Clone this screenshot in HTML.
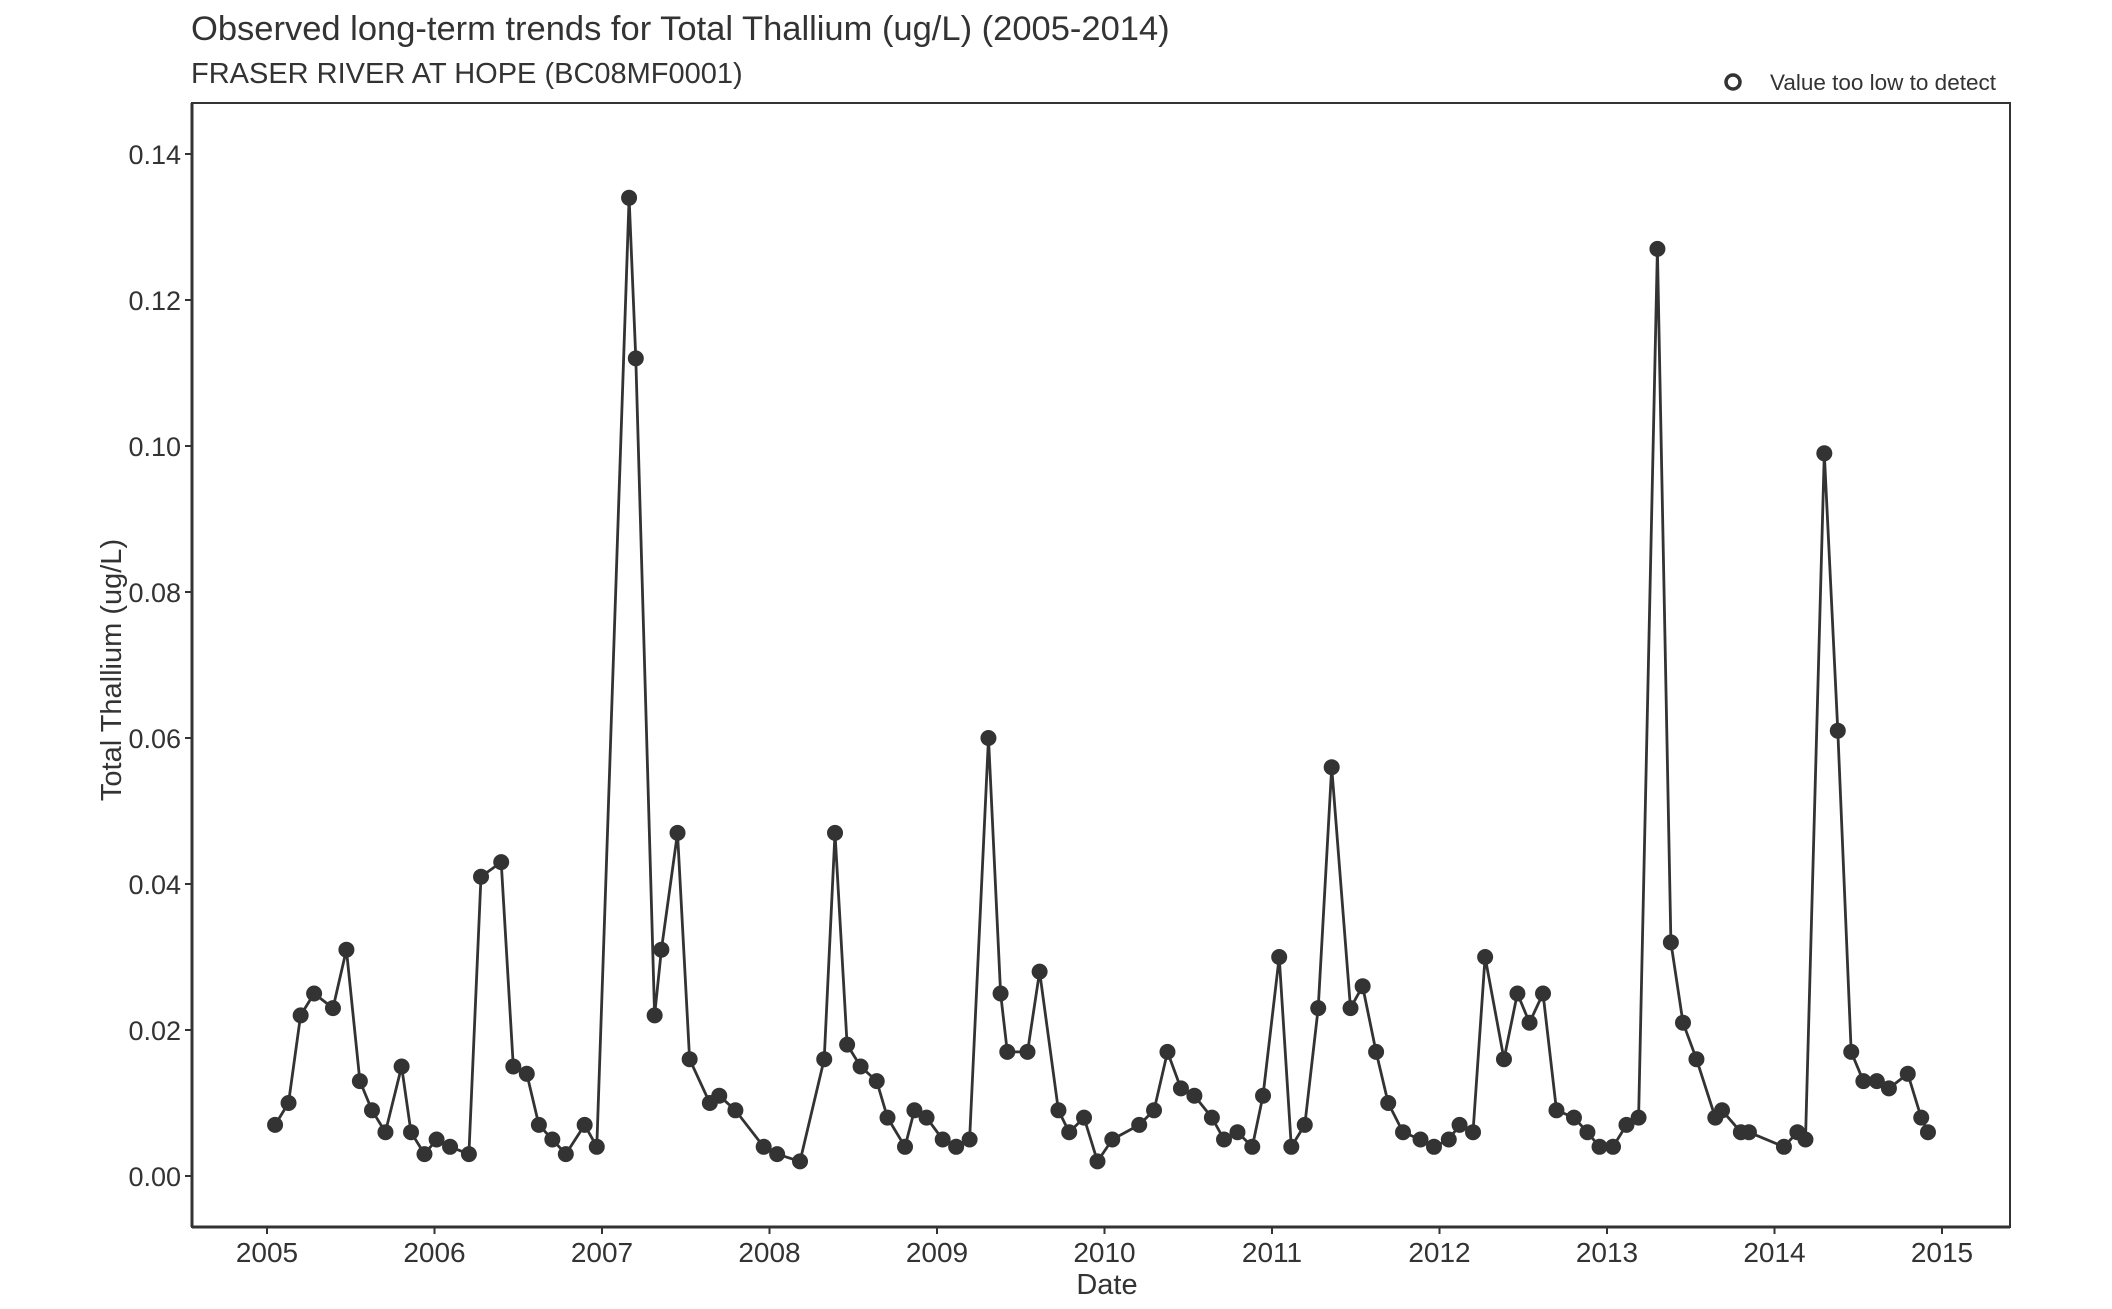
<!DOCTYPE html>
<html><head><meta charset="utf-8"><style>
html,body{margin:0;padding:0;background:#fff;}
svg{display:block;font-family:"Liberation Sans",Arial,sans-serif;}
</style></head><body>
<svg id="s" width="2112" height="1309" viewBox="0 0 2112 1309" xmlns="http://www.w3.org/2000/svg">
<rect width="2112" height="1309" fill="#fff"/>
<text x="191" y="40" font-size="34.5" fill="#333">Observed long-term trends for Total Thallium (ug/L) (2005-2014)</text>
<text x="191" y="83" font-size="29" fill="#333">FRASER RIVER AT HOPE (BC08MF0001)</text>
<circle cx="1733" cy="82" r="7" fill="none" stroke="#333" stroke-width="3.5"/>
<text x="1770" y="90" font-size="22.5" fill="#333">Value too low to detect</text>
<rect x="192" y="103" width="1818" height="1124" fill="none" stroke="#333" stroke-width="2"/>
<line x1="192" y1="1227" x2="2010" y2="1227" stroke="#333" stroke-width="3"/>
<line x1="192" y1="103" x2="192" y2="1227" stroke="#333" stroke-width="3"/>
<g id="ax" fill="#333"></g>
<text x="1107" y="1294" font-size="29" fill="#333" text-anchor="middle">Date</text>
<text transform="translate(121,670) rotate(-90)" font-size="29" fill="#333" text-anchor="middle">Total Thallium (ug/L)</text>
<g id="d"></g>
</svg>
<script>
var NS="http://www.w3.org/2000/svg";
function el(p,t,a,txt){var e=document.createElementNS(NS,t);for(var k in a)e.setAttribute(k,a[k]);if(txt!=null)e.textContent=txt;p.appendChild(e);return e;}
var ax=document.getElementById('ax');
function Y(v){return 1176-v*(1022/0.14);}
for(var i=0;i<=7;i++){var v=i*0.02,y=Y(v);
el(ax,'line',{x1:185,y1:y,x2:192,y2:y,stroke:'#333','stroke-width':2});
el(ax,'text',{x:181,y:y+10,'text-anchor':'end','font-size':27},v.toFixed(2));}
for(var yr=2005;yr<=2015;yr++){var x=267+(yr-2005)*167.5;
el(ax,'line',{x1:x,y1:1227,x2:x,y2:1234,stroke:'#333','stroke-width':2});
el(ax,'text',{x:x,y:1262,'text-anchor':'middle','font-size':28},yr);}
var D=[[203,.007],[213,.010],[222,.022],[232,.025],[246,.023],[256,.031],[266,.013],[275,.009],[285,.006],[297,.015],[304,.006],[314,.003],[323,.005],[333,.004],[347,.003],[356,.041],[371,.043],[380,.015],[390,.014],[399,.007],[409,.005],[419,.003],[433,.007],[442,.004],[466,.134],[471,.112],[485,.022],[490,.031],[502,.047],[511,.016],[526,.010],[533,.011],[545,.009],[566,.004],[576,.003],[593,.002],[611,.016],[619,.047],[628,.018],[638,.015],[650,.013],[658,.008],[671,.004],[678,.009],[687,.008],[699,.005],[709,.004],[719,.005],[733,.060],[742,.025],[747,.017],[762,.017],[771,.028],[785,.009],[793,.006],[804,.008],[814,.002],[825,.005],[845,.007],[856,.009],[866,.017],[876,.012],[886,.011],[899,.008],[908,.005],[918,.006],[929,.004],[937,.011],[949,.030],[958,.004],[968,.007],[978,.023],[988,.056],[1002,.023],[1011,.026],[1021,.017],[1030,.010],[1041,.006],[1054,.005],[1064,.004],[1075,.005],[1083,.007],[1093,.006],[1102,.030],[1116,.016],[1126,.025],[1135,.021],[1145,.025],[1155,.009],[1168,.008],[1178,.006],[1187,.004],[1197,.004],[1207,.007],[1216,.008],[1230,.127],[1240,.032],[1249,.021],[1259,.016],[1273,.008],[1278,.009],[1292,.006],[1298,.006],[1324,.004],[1334,.006],[1340,.005],[1354,.099],[1364,.061],[1374,.017],[1383,.013],[1393,.013],[1402,.012],[1416,.014],[1426,.008],[1431,.006]];
var g=document.getElementById('d'),pts=[];
D.forEach(function(p){pts.push([267+(p[0]-197)*1.346,Y(p[1])]);});
el(g,'polyline',{points:pts.map(function(p){return p[0].toFixed(1)+','+p[1].toFixed(1);}).join(' '),fill:'none',stroke:'#333','stroke-width':2.8,'stroke-linejoin':'round'});
pts.forEach(function(p){el(g,'circle',{cx:p[0],cy:p[1],r:8,fill:'#333'});});
</script>
</body></html>
